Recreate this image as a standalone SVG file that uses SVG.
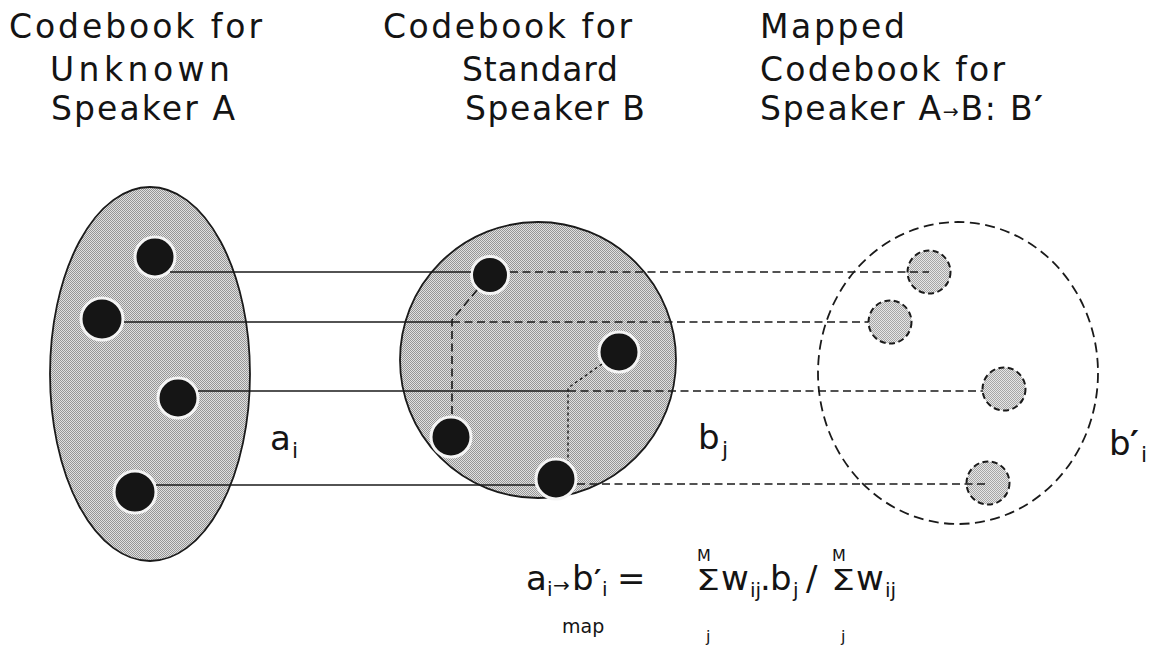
<svg xmlns="http://www.w3.org/2000/svg" width="1168" height="646" viewBox="0 0 1168 646">
  <style>
    text { font-family: "DejaVu Sans", "Noto Sans", sans-serif; fill: #141414; }
    .title { font-size: 33px; }
    .lbl { font-size: 34px; }
    .sub { font-size: 22px; }
    .eq { font-size: 34px; }
    .eqsub { font-size: 20px; }
    .lim { font-size: 16px; }
    .sum { font-size: 28px; }
    .prime { font-weight: bold; }
    .region { stroke: #1a1a1a; stroke-width: 1.8; }
    .code { fill: #151515; stroke: #f4f4f4; stroke-width: 3; }
    .mapped { fill: url(#screenLight); stroke: #1a1a1a; stroke-width: 2; stroke-dasharray: 6 3.5; }
    .solid { fill: none; stroke: #1a1a1a; stroke-width: 1.6; }
    .dash { fill: none; stroke: #1a1a1a; stroke-width: 1.6; stroke-dasharray: 8 4.5; }
    .fine { fill: none; stroke: #1a1a1a; stroke-width: 1.4; stroke-dasharray: 3 3; }
  </style>
  <defs>
    <!-- halftone screens for the shaded codebook regions -->
    <pattern id="screen" width="2" height="2" patternUnits="userSpaceOnUse">
      <rect width="2" height="2" fill="#e0e0e0"/>
      <rect width="1" height="1" fill="#969696"/>
      <rect x="1" y="1" width="1" height="1" fill="#969696"/>
    </pattern>
    <pattern id="screenLight" width="2" height="2" patternUnits="userSpaceOnUse">
      <rect width="2" height="2" fill="#e6e6e6"/>
      <rect width="1" height="1" fill="#a6a6a6"/>
      <rect x="1" y="1" width="1" height="1" fill="#a6a6a6"/>
    </pattern>
  </defs>

  <rect width="1168" height="646" fill="#ffffff"/>

  <!-- column headings -->
  <g id="heading-a" class="title">
    <text x="9" y="38" textLength="253" lengthAdjust="spacing">Codebook for</text>
    <text x="50" y="81" textLength="180" lengthAdjust="spacing">Unknown</text>
    <text x="51" y="120" textLength="184" lengthAdjust="spacing">Speaker A</text>
  </g>
  <g id="heading-b" class="title">
    <text x="383" y="38" textLength="249" lengthAdjust="spacing">Codebook for</text>
    <text x="462" y="81" textLength="156" lengthAdjust="spacing">Standard</text>
    <text x="465" y="120" textLength="180" lengthAdjust="spacing">Speaker B</text>
  </g>
  <g id="heading-mapped" class="title">
    <text x="760" y="38" textLength="145" lengthAdjust="spacing">Mapped</text>
    <text x="760" y="81" textLength="245" lengthAdjust="spacing">Codebook for</text>
    <text x="760" y="120" textLength="283" lengthAdjust="spacing">Speaker A<tspan font-size="19" dy="-2">→</tspan><tspan dy="2">B: B</tspan><tspan class="prime">′</tspan></text>
  </g>

  <!-- codebook A: unknown speaker -->
  <g id="codebook-a">
    <ellipse class="region" cx="150" cy="374" rx="100" ry="187" fill="url(#screen)"/>
    <circle id="a1" class="code" cx="155" cy="257" r="20"/>
    <circle id="a2" class="code" cx="102" cy="319" r="21"/>
    <circle id="a3" class="code" cx="178" cy="398" r="20"/>
    <circle id="a4" class="code" cx="135" cy="492" r="21"/>
  </g>

  <!-- codebook B: standard speaker -->
  <g id="codebook-b">
    <circle class="region" cx="538" cy="360" r="138" fill="url(#screen)"/>
    <circle id="b1" class="code" cx="490" cy="275" r="18.5"/>
    <circle id="b2" class="code" cx="619" cy="352" r="20"/>
    <circle id="b3" class="code" cx="451" cy="437" r="20"/>
    <circle id="b4" class="code" cx="556" cy="479" r="20"/>
  </g>

  <!-- mapped codebook B' -->
  <g id="codebook-mapped">
    <ellipse cx="958" cy="373" rx="140" ry="151" fill="none" stroke="#1a1a1a" stroke-width="1.8" stroke-dasharray="10 5.5"/>
    <circle id="m1" class="mapped" cx="929" cy="272" r="21.5"/>
    <circle id="m2" class="mapped" cx="890" cy="322" r="21.5"/>
    <circle id="m3" class="mapped" cx="1004" cy="389" r="21.5"/>
    <circle id="m4" class="mapped" cx="988" cy="483" r="21.5"/>
  </g>

  <!-- correspondences a_i -> b_j -> b'_i -->
  <g id="connectors">
    <line class="solid" x1="170" y1="272" x2="471" y2="272"/>
    <line class="dash" x1="510" y1="272" x2="929" y2="272"/>

    <line class="solid" x1="124" y1="322" x2="452" y2="322"/>
    <line class="dash" x1="452" y1="322" x2="868" y2="322"/>
    <polyline class="dash" points="477,290 452,320 452,415"/>

    <line class="solid" x1="198" y1="391" x2="568" y2="391"/>
    <line class="dash" x1="568" y1="391" x2="983" y2="391"/>
    <polyline class="fine" points="602,364 568,388 568,461"/>

    <line class="solid" x1="156" y1="485" x2="535" y2="485"/>
    <line class="dash" x1="577" y1="484" x2="988" y2="484"/>
  </g>

  <!-- region labels -->
  <g id="label-a">
    <text class="lbl" x="270" y="450">a</text>
    <text class="sub" x="292" y="458">i</text>
  </g>
  <g id="label-b">
    <text class="lbl" x="698" y="449">b</text>
    <text class="sub" x="722" y="457">j</text>
  </g>
  <g id="label-mapped">
    <text class="lbl" x="1109" y="455">b</text>
    <text class="lbl prime" x="1130" y="455">′</text>
    <text class="sub" x="1141" y="462">i</text>
  </g>

  <!-- mapping rule -->
  <g id="formula">
    <text class="eq" x="526" y="590">a</text>
    <text class="eqsub" x="547" y="596">i</text>
    <text x="553" y="592" font-size="20">→</text>
    <text class="eq" x="572" y="590">b</text>
    <text class="prime" x="594" y="590" font-size="28">′</text>
    <text class="eqsub" x="602" y="596">i</text>
    <text class="eq" x="617" y="590">=</text>
    <text x="562" y="633" font-size="19">map</text>

    <text class="lim" x="697" y="561">M</text>
    <text class="sum" x="696" y="590" textLength="24" lengthAdjust="spacingAndGlyphs">Σ</text>
    <text class="lim" x="706" y="642">j</text>
    <text class="eq" x="721" y="590">w</text>
    <text class="eqsub" x="750" y="597">ij</text>
    <text class="eq" x="760" y="590">.</text>
    <text class="eq" x="770" y="590">b</text>
    <text class="eqsub" x="793" y="597">j</text>
    <text class="eq" x="806" y="590">/</text>

    <text class="lim" x="832" y="561">M</text>
    <text class="sum" x="831" y="590" textLength="24" lengthAdjust="spacingAndGlyphs">Σ</text>
    <text class="lim" x="841" y="642">j</text>
    <text class="eq" x="856" y="590">w</text>
    <text class="eqsub" x="885" y="597">ij</text>
  </g>
</svg>
